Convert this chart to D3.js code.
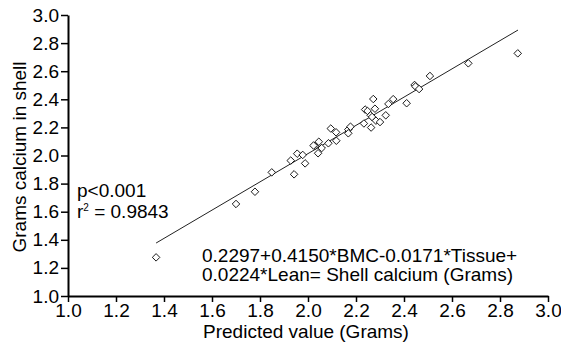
<!DOCTYPE html>
<html><head><meta charset="utf-8">
<script src="https://cdn.jsdelivr.net/npm/d3@7"></script>
<style>body{margin:0;background:#fff}svg{display:block}text{font-family:"Liberation Sans",Arial,sans-serif;fill:#000}</style>
</head><body>
<script>
const predicted = [1.367,1.700,1.779,1.849,1.942,1.928,1.955,1.978,1.988,2.029,2.045,2.023,2.057,2.042,2.085,2.118,2.095,2.117,2.168,2.177,2.168,2.233,2.263,2.238,2.248,2.272,2.279,2.261,2.267,2.283,2.300,2.324,2.335,2.355,2.411,2.444,2.448,2.463,2.508,2.668,2.874];
const shellCa   = [1.275,1.655,1.742,1.880,1.866,1.964,2.013,2.004,1.944,2.068,2.098,2.071,2.053,2.016,2.087,2.105,2.192,2.165,2.185,2.205,2.158,2.228,2.199,2.327,2.317,2.402,2.333,2.286,2.274,2.248,2.238,2.286,2.367,2.401,2.372,2.502,2.491,2.473,2.566,2.656,2.727];
const fitLineX = [1.367, 2.875];
const fitLineY = [1.377, 2.893];
const xTicks = [1.0,1.2,1.4,1.6,1.8,2.0,2.2,2.4,2.6,2.8,3.0];
const yTicks = [1.0,1.2,1.4,1.6,1.8,2.0,2.2,2.4,2.6,2.8,3.0];

const W=561,H=353;
const svg=d3.select("body").append("svg").attr("width",W).attr("height",H);
const x=d3.scaleLinear().domain([1,3]).range([68,548]);
const y=d3.scaleLinear().domain([1,3]).range([296,15]);
const fs="19px";

const xa=svg.append("g").attr("transform",`translate(0,${y(1)})`)
  .call(d3.axisBottom(x).tickValues(xTicks).tickFormat(d3.format(".1f")).tickSizeInner(6).tickSizeOuter(0).tickPadding(2));
const ya=svg.append("g").attr("transform",`translate(${x(1)},0)`)
  .call(d3.axisLeft(y).tickValues(yTicks).tickFormat(d3.format(".1f")).tickSizeInner(7).tickSizeOuter(0).tickPadding(2));
[xa,ya].forEach(g=>{
  g.selectAll("path").attr("stroke","#000").attr("stroke-width",2);
  g.selectAll("line").attr("stroke","#000").attr("stroke-width",1.5);
  g.selectAll("text").attr("font-size",fs).attr("font-family","Liberation Sans, Arial, sans-serif").attr("fill","#000");
});

svg.append("line")
  .attr("x1",x(fitLineX[0])).attr("y1",y(fitLineY[0]))
  .attr("x2",x(fitLineX[1])).attr("y2",y(fitLineY[1]))
  .attr("stroke","#222").attr("stroke-width",1);

const sym=d3.symbol().type(d3.symbolDiamond2).size(36);
svg.append("g").selectAll("path").data(predicted.map((v,i)=>[v,shellCa[i]])).join("path")
  .attr("transform",d=>`translate(${x(d[0])},${y(d[1])})`)
  .attr("d",sym).attr("fill","#fff").attr("stroke","#000").attr("stroke-width",0.9);

svg.append("text").attr("x",306).attr("y",338).attr("text-anchor","middle").attr("font-size",fs).text("Predicted value (Grams)");
svg.append("text").attr("transform","translate(26,157) rotate(-90)").attr("text-anchor","middle").attr("font-size",fs).text("Grams calcium in shell");

svg.append("text").attr("x",77).attr("y",197).attr("font-size",fs).text("p<0.001");
const r=svg.append("text").attr("x",77).attr("y",218).attr("font-size",fs);
r.append("tspan").text("r");
r.append("tspan").attr("font-size","10px").attr("dy",-7).text("2");
r.append("tspan").attr("dy",7).text(" = 0.9843");

svg.append("text").attr("x",202).attr("y",262).attr("font-size",fs).text("0.2297+0.4150*BMC-0.0171*Tissue+");
svg.append("text").attr("x",202).attr("y",281).attr("font-size",fs).text("0.0224*Lean= Shell calcium (Grams)");
</script>
</body></html>
